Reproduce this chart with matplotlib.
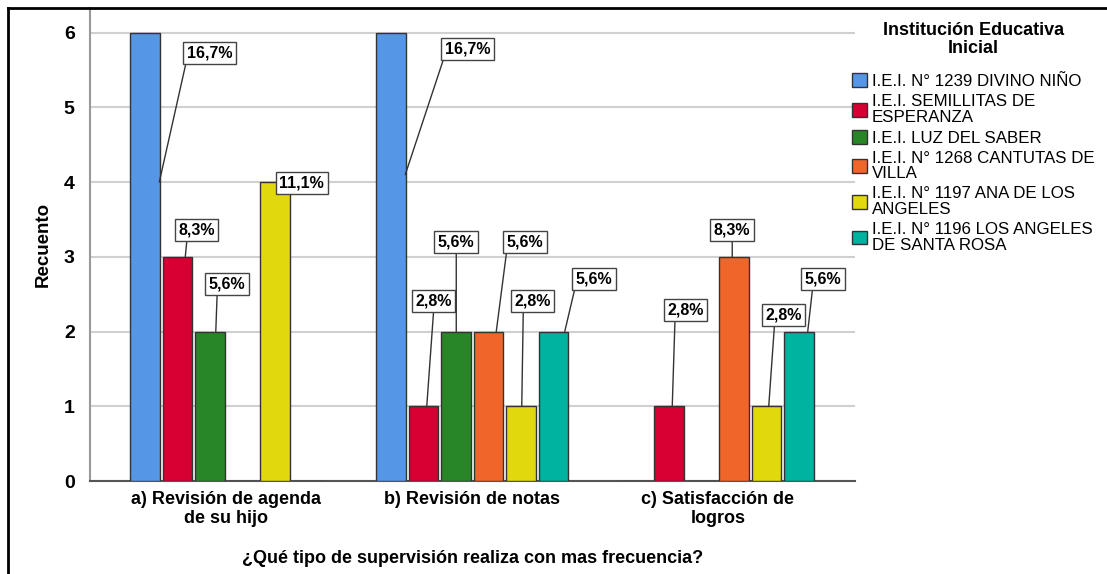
import matplotlib.pyplot as plt
from matplotlib.lines import Line2D

plt.rcParams['font.family'] = ['Liberation Sans', 'DejaVu Sans']

# data
categories = ['a) Revisión de agenda\nde su hijo', 'b) Revisión de notas', 'c) Satisfacción de\nlogros']
schools = ['I.E.I. N° 1239 DIVINO NIÑO', 'I.E.I. SEMILLITAS DE\nESPERANZA', 'I.E.I. LUZ DEL SABER',
           'I.E.I. N° 1268 CANTUTAS DE\nVILLA', 'I.E.I. N° 1197 ANA DE LOS\nANGELES',
           'I.E.I. N° 1196 LOS ANGELES\nDE SANTA ROSA']
divino_nino = [6, 6, 0]
semillitas = [3, 1, 1]
luz_saber = [2, 2, 0]
cantutas = [0, 2, 3]
ana_angeles = [4, 1, 1]
santa_rosa = [0, 2, 2]
percents = [['16,7%', '16,7%', ''],
            ['8,3%', '2,8%', '2,8%'],
            ['5,6%', '5,6%', ''],
            ['', '5,6%', '8,3%'],
            ['11,1%', '2,8%', '2,8%'],
            ['', '5,6%', '5,6%']]
series = [divino_nino, semillitas, luz_saber, cantutas, ana_angeles, santa_rosa]
colors = ['#5596E6', '#D60032', '#298627', '#F0662A', '#E2D80E', '#00B2A0']

# label layout: (anchor dx px, anchor y or None, text dx px, text dy px, relpos x)
label_pos = [[(14.5, 4.0, 50, 129, 0.0), (14.5, 4.1, 62, 126, 0.0), None],
             [(8, None, 11, 27, 0.25), (3.5, None, 7, 105, 0.5), (3, None, 13, 96, 0.22)],
             [(6, None, 11, 48, 0.24), (0.5, None, 0, 90, 0.5), None],
             [None, (8, None, 29, 90, 0.0), (-2, None, 0, 27, 0.5)],
             [(0, None, 27, -1, None), (1, None, 11, 105, 0.24), (2, None, 15, 91, 0.25)],
             [None, (11.5, None, 29, 53, 0.0), (8.5, None, 15, 53, 0.23)]]

fig = plt.figure(figsize=(11.07, 5.74), dpi=100)
ax = fig.add_axes([90 / 1107, 93 / 574, 765 / 1107, 473 / 574])

px = 246.0  # pixels per category step
width = 29.5 / px
step = 32.5 / px
x = list(range(len(categories)))

for i, vals in enumerate(series):
    xs = [c + (i - 2.5) * step for c in x]
    ax.bar(xs, vals, width, color=colors[i], edgecolor='#333333', linewidth=1, zorder=3, label=schools[i])
    for j, v in enumerate(vals):
        lp = label_pos[i][j]
        if lp is None or v == 0:
            continue
        adx, ay, tdx, tdy, rel = lp
        if ay is None:
            ay = v
        xa = xs[j] + adx / px
        arrow = None
        if rel is not None:
            arrow = dict(arrowstyle='-', color='#333333', lw=1, shrinkA=0, shrinkB=0, relpos=(rel, 0))
        ax.annotate(percents[i][j], xy=(xa, ay), xytext=(tdx, tdy), textcoords='offset pixels',
                    ha='center', va='center', fontsize=11.5, fontweight='bold', zorder=5,
                    bbox=dict(boxstyle='square,pad=0.22', fc='white', ec='#444444', lw=1),
                    arrowprops=arrow)

ax.set_xlim(-0.553, 2.557)
ax.set_ylim(0, 6.33)
ax.set_yticks(range(7))
ax.set_xticks(x)
ax.set_xticklabels(categories, fontsize=13, fontweight='bold', linespacing=1.2)
ax.tick_params(axis='y', length=0, pad=11, labelsize=14)
ax.tick_params(axis='x', length=0, pad=7)
for t in ax.get_yticklabels():
    t.set_fontweight('bold')
ax.yaxis.grid(True, color='#d0d0d0', lw=1.5, zorder=0)
for s in ['top', 'right']:
    ax.spines[s].set_visible(False)
ax.spines['left'].set_color('#999999')
ax.spines['left'].set_linewidth(1.5)
ax.spines['bottom'].set_color('#555555')
ax.spines['bottom'].set_linewidth(1.5)
ax.set_ylabel('Recuento', fontsize=13.5, fontweight='bold', labelpad=9)
ax.set_xlabel('¿Qué tipo de supervisión realiza con mas frecuencia?', fontsize=13,
              fontweight='bold', labelpad=16)

leg = ax.legend(loc='upper left', bbox_to_anchor=(852 / 1107, 1 - 22 / 574),
                bbox_transform=fig.transFigure, frameon=False, fontsize=12.2,
                title='Institución Educativa\nInicial', handlelength=0.88, handleheight=0.88,
                handletextpad=0.3, labelspacing=0.3, borderpad=0, borderaxespad=0)
title = leg.get_title()
title.set_fontweight('bold')
title.set_fontsize(13)
title.set_linespacing(1.05)
title.set_multialignment('center')
leg._legend_box.sep = 12
for t in leg.get_texts():
    t.set_linespacing(1.05)

# outer frame (top and left only)
fig.add_artist(Line2D([8 / 1107, 8 / 1107], [0, 1 - 8 / 574], color='black', lw=2))
fig.add_artist(Line2D([8 / 1107, 1], [1 - 8 / 574, 1 - 8 / 574], color='black', lw=2))

fig.savefig('out.png', dpi=100)
